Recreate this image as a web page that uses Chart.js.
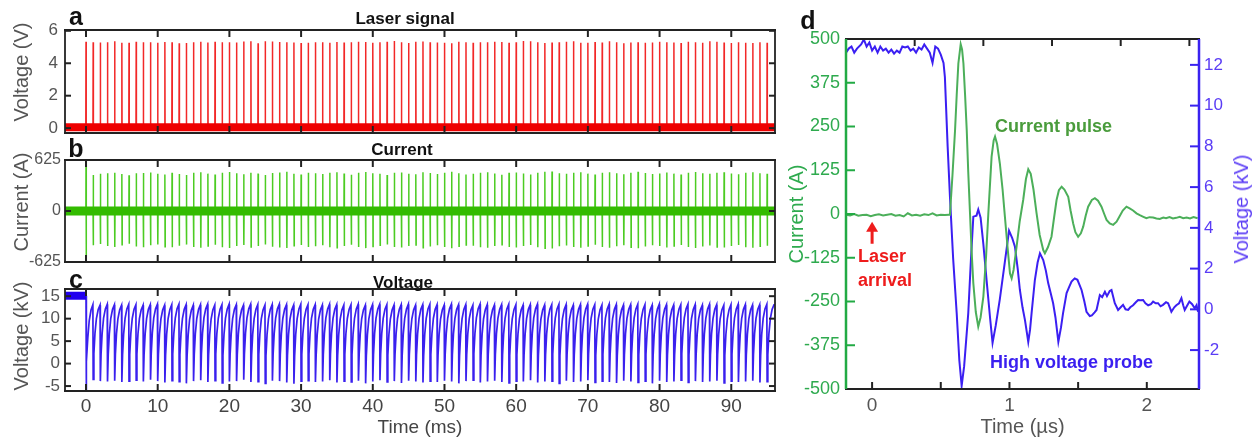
<!DOCTYPE html>
<html><head><meta charset="utf-8">
<script src="https://cdn.jsdelivr.net/npm/chart.js@4.4.1/dist/chart.umd.min.js"></script>
<style>
html,body{margin:0;padding:0;background:#fff;}
#wrap{position:relative;width:1252px;height:440px;overflow:hidden;font-family:'Liberation Sans',Arial,sans-serif;background:#fff;}
canvas{position:absolute;}
.lbl{position:absolute;white-space:nowrap;line-height:1;}
.c{transform:translate(-50%,-50%);}
.l{transform:translate(0,-50%);}
.r{transform:translate(-50%,-50%) rotate(-90deg);}
</style></head><body>
<div id="wrap">
<canvas id="ca" style="left:0;top:0;width:790px;height:140px" width="790" height="140"></canvas>
<canvas id="cb" style="left:0;top:140px;width:790px;height:135px" width="790" height="135"></canvas>
<canvas id="cc" style="left:0;top:270px;width:790px;height:170px" width="790" height="170"></canvas>
<canvas id="cd" style="left:784px;top:0;width:468px;height:440px" width="468" height="440"></canvas>
<div class="lbl c" style="left:76px;top:16px;font-weight:bold;font-size:25px;color:#111">a</div>
<div class="lbl c" style="left:76px;top:148px;font-weight:bold;font-size:25px;color:#111">b</div>
<div class="lbl c" style="left:76px;top:279px;font-weight:bold;font-size:25px;color:#111">c</div>
<div class="lbl c" style="left:808px;top:20px;font-weight:bold;font-size:25px;color:#111">d</div>
<div class="lbl c" style="left:405px;top:18px;font-weight:bold;font-size:17px;color:#111">Laser signal</div>
<div class="lbl c" style="left:402px;top:149px;font-weight:bold;font-size:17px;color:#111">Current</div>
<div class="lbl c" style="left:403px;top:282px;font-weight:bold;font-size:17px;color:#111">Voltage</div>
<div class="lbl r" style="left:21px;top:72px;font-size:20px;color:#555">Voltage (V)</div>
<div class="lbl r" style="left:21px;top:202px;font-size:20px;color:#555">Current (A)</div>
<div class="lbl r" style="left:21px;top:336px;font-size:20px;color:#555">Voltage (kV)</div>
<div class="lbl l" style="left:995px;top:126px;font-weight:bold;font-size:18px;color:#4a9c3c">Current pulse</div>
<div class="lbl l" style="left:990px;top:362px;font-weight:bold;font-size:18px;color:#3a1ff0">High voltage probe</div>
<div class="lbl l" style="left:858px;top:256px;font-weight:bold;font-size:18px;color:#ee1c1c">Laser</div>
<div class="lbl l" style="left:858px;top:280px;font-weight:bold;font-size:18px;color:#ee1c1c">arrival</div>
<div class="lbl r" style="left:1241px;top:209px;font-size:20px;color:#5a3cf5">Voltage (kV)</div>
</div>
<script>
// ---------------- DATA ----------------
const pulseTimes = [0,1,2,3,4,5,6,7,8,9,10,11,12,13,14,15,16,17,18,19,20,21,22,23,24,25,26,27,28,29,30,31,32,33,34,35,36,37,38,39,40,41,42,43,44,45,46,47,48,49,50,51,52,53,54,55,56,57,58,59,60,61,62,63,64,65,66,67,68,69,70,71,72,73,74,75,76,77,78,79,80,81,82,83,84,85,86,87,88,89,90,91,92,93,94,95];
const laserPeaks = [
5.33,5.30,5.28,5.30,5.36,5.26,5.27,5.32,5.29,5.30,5.26,5.31,
5.29,5.24,5.25,5.30,5.32,5.28,5.33,5.30,5.29,5.28,5.34,5.36,
5.23,5.35,5.34,5.31,5.30,5.28,5.25,5.27,5.30,5.29,5.26,5.31,
5.28,5.30,5.33,5.31,5.27,5.30,5.33,5.37,5.29,5.25,5.32,5.34,
5.30,5.28,5.27,5.23,5.33,5.30,5.27,5.29,5.30,5.32,5.31,5.26,
5.30,5.37,5.35,5.30,5.25,5.28,5.30,5.32,5.35,5.26,5.26,5.31,
5.28,5.35,5.30,5.23,5.28,5.30,5.26,5.28,5.33,5.30,5.28,5.25,
5.33,5.30,5.27,5.35,5.32,5.28,5.25,5.30,5.27,5.25,5.30,5.26];
const laserBaseline = 0.05;
const currentPos = [
625,440,455,462,470,452,438,462,466,472,455,446,
470,452,440,468,475,458,448,470,478,462,450,470,
458,440,465,472,480,455,448,468,462,452,470,476,
460,445,470,478,462,455,440,468,472,458,450,476,
465,452,470,480,462,448,456,470,475,460,445,468,
472,460,448,470,482,485,462,455,470,476,458,446,
468,476,462,450,470,480,465,452,460,472,458,446,
470,478,462,455,468,474,460,450,470,476,462,455];
const currentNeg = [
-625,-420,-405,-430,-440,-415,-400,-435,-445,-420,-410,-438,
-445,-425,-412,-440,-450,-430,-415,-445,-452,-430,-418,-440,
-428,-410,-438,-446,-452,-425,-416,-440,-432,-420,-444,-450,
-430,-415,-442,-455,-435,-420,-410,-440,-446,-428,-418,-450,
-436,-420,-442,-456,-432,-416,-425,-444,-450,-430,-414,-440,
-446,-430,-418,-444,-458,-460,-432,-424,-442,-450,-428,-415,
-440,-450,-432,-420,-444,-455,-436,-420,-430,-446,-428,-416,
-442,-452,-434,-424,-440,-448,-430,-418,-444,-450,-432,-425];
const voltPreTrigger = 15.1;
const voltMin = [
-6.4,-3.5,-3.9,-4.0,-3.8,-4.1,-3.9,-3.7,-4.0,-3.6,-3.9,-4.2,
-3.8,-4.0,-4.4,-3.9,-3.7,-4.1,-3.8,-4.3,-4.0,-3.9,-3.6,-4.1,
-4.0,-4.4,-3.8,-3.9,-4.2,-4.5,-3.9,-3.8,-4.1,-4.0,-3.7,-4.2,
-3.9,-4.1,-3.8,-4.4,-4.0,-3.7,-4.1,-3.9,-4.3,-3.8,-4.0,-4.2,
-3.9,-4.1,-3.8,-4.0,-4.4,-3.9,-3.7,-4.2,-4.0,-3.8,-4.1,-4.3,
-3.9,-4.0,-3.7,-4.2,-4.0,-3.9,-4.4,-3.8,-4.1,-4.0,-3.7,-4.2,
-3.9,-4.1,-4.3,-3.8,-4.0,-4.2,-3.9,-4.4,-3.8,-4.1,-4.0,-3.7,
-4.2,-3.9,-4.1,-4.0,-3.8,-4.3,-3.9,-4.1,-4.0,-3.8,-4.2,-4.0];
const voltMax = [
13.1,13.0,13.2,13.1,13.0,13.2,13.1,13.0,13.1,13.2,13.0,13.1,
13.2,13.1,13.0,13.1,13.2,13.0,13.1,13.2,13.1,13.0,13.2,13.1,
13.0,13.1,13.2,13.1,13.0,13.2,13.1,13.1,13.0,13.2,13.1,13.0,
13.1,13.2,13.0,13.1,13.2,13.1,13.0,13.1,13.2,13.0,13.1,13.2,
13.1,13.0,13.2,13.1,13.1,13.0,13.2,13.1,13.0,13.1,13.2,13.1,
13.0,13.1,13.2,13.0,13.1,13.2,13.1,13.0,13.1,13.2,13.1,13.0,
13.2,13.1,13.0,13.1,13.2,13.1,13.0,13.2,13.1,13.0,13.1,13.2,
13.1,13.0,13.2,13.1,13.0,13.1,13.2,13.1,13.0,13.1,13.2,13.1];
// recharge shape of one tooth: [fraction of period, fraction of (max-min)]
const toothProfile = [[0,0],[0.1,0.35],[0.25,0.62],[0.45,0.82],[0.7,0.94],[0.96,1]];

// panel d
const dCurT = [-0.19,-0.16,-0.13,-0.10,-0.07,-0.04,-0.01,0.02,0.05,0.08,0.11,0.14,0.17,0.20,0.23,0.26,0.29,0.32,0.35,0.38,0.41,0.44,0.47,0.50,0.53,0.56,
0.567,0.585,0.604,0.616,0.628,0.645,0.655,0.665,0.677,0.689,0.70,0.713,0.725,0.737,0.755,0.773,0.79,0.81,0.83,0.846,0.87,0.885,0.895,0.91,0.93,0.95,0.967,0.985,1.004,1.016,1.03,1.052,1.075,1.10,1.12,1.137,1.155,1.175,1.197,1.22,1.246,1.258,1.28,1.306,1.325,1.343,1.36,1.38,1.40,1.428,1.445,1.464,1.48,1.50,1.52,1.537,1.555,1.573,1.60,1.622,1.645,1.67,1.69,1.707,1.73,1.755,1.78,1.80,1.825,1.852,1.875,1.90,1.925,1.949,1.975,1.997,2.02,2.046,2.07,2.094,2.12,2.14,2.165,2.19,2.215,2.24,2.265,2.29,2.315,2.34,2.37];
const dCurrent = [-2,-4,0,-5,-3,-2,-6,-3,-1,-4,-2,0,-5,-3,-7,2,-4,-2,-5,-1,-3,2,-4,-2,-3,-2,
0,110,240,340,430,485,470,430,340,240,120,0,-110,-198,-280,-322,-295,-236,-120,0,164,210,221,200,145,70,-8,-90,-170,-184,-160,-93,-20,40,100,128,115,70,3,-60,-103,-112,-95,-65,-10,40,68,78,70,49,10,-27,-52,-65,-55,-36,-5,21,40,45,38,21,0,-17,-27,-31,-22,-8,10,21,16,10,2,-3,-8,-12,-9,-10,-13,-14,-10,-12,-9,-13,-11,-8,-12,-10,-13,-9,-12];
const dVolT = [-0.19,-0.17,-0.15,-0.13,-0.11,-0.08,-0.06,-0.04,-0.02,0.00,0.02,0.04,0.06,0.08,0.10,0.12,0.14,0.16,0.18,0.20,0.22,0.24,0.26,0.28,0.30,0.32,0.34,0.36,0.38,0.40,0.42,0.44,0.46,0.48,0.50,0.52,0.53,0.55,0.567,0.59,0.616,0.635,0.652,0.67,0.70,0.72,0.737,0.76,0.773,0.79,0.81,0.834,0.86,0.877,0.90,0.93,0.96,0.98,0.997,
1.02,1.04,1.06,1.076,1.095,1.113,1.137,1.15,1.161,1.185,1.205,1.222,1.246,1.265,1.282,1.30,1.318,1.335,1.356,1.375,1.39,1.416,1.435,1.452,1.475,1.495,1.51,1.525,1.545,1.561,1.585,1.60,1.62,1.634,1.658,1.675,1.695,1.71,1.73,1.743,1.767,1.791,1.81,1.827,1.845,1.864,1.88,1.90,1.92,1.937,1.955,1.973,1.99,2.01,2.03,2.046,2.065,2.082,2.10,2.118,2.14,2.155,2.17,2.179,2.20,2.215,2.235,2.252,2.265,2.276,2.295,2.31,2.33,2.349,2.362,2.373];
const dVoltage = [12.6,12.8,12.9,12.6,12.8,13.0,13.25,12.9,13.1,12.7,12.9,12.6,12.9,12.7,12.8,12.6,12.75,12.55,12.7,12.6,12.9,12.85,12.9,12.7,12.8,12.6,12.85,12.75,13.0,12.8,12.6,12.1,12.9,12.8,12.5,12.1,11.4,8.0,5.5,2.5,-0.2,-2.5,-3.75,-2.8,-0.2,2.5,4.55,4.6,4.9,4.5,3.2,1.4,-0.5,-1.65,-0.8,0.5,2.0,3.0,3.86,
3.5,3.07,2.0,0.95,0.1,-0.53,-1.6,-1.0,-0.2,1.44,2.3,2.75,2.42,1.9,1.29,0.8,0.3,-0.4,-1.59,-0.9,-0.2,0.8,1.1,1.36,1.52,1.45,1.2,0.95,0.4,-0.12,-0.33,-0.3,-0.15,-0.03,0.7,0.6,0.86,0.65,0.9,0.95,0.3,-0.03,0.1,0.22,0.0,-0.03,0.1,0.2,0.35,0.46,0.45,0.46,0.3,0.2,0.25,0.38,0.3,0.3,0.15,0.22,0.35,0.3,0.05,-0.12,0.1,0.2,0.3,0.55,0.2,-0.03,0.2,0.38,0.25,0.05,0.2,-0.12];

// tick labels / axis ranges
const msTicks = [0,10,20,30,40,50,60,70,80,90];
const aYTicks = [0,2,4,6];
const bYTicks = [-625,0,625];
const cYTicks = [-5,0,5,10,15];
const dXTicks = [0,0.5,1,1.5,2];
const dTopTicks = [0.31,0.81,1.31,1.81,2.31];
const dCurTicks = [-500,-375,-250,-125,0,125,250,375,500];
const dVolTicks = [-2,0,2,4,6,8,10,12];
const msMin = -2.93, msMax = 96.1;

// ---------------- BUILD ----------------
Chart.defaults.font.family = "'Liberation Sans', Arial, sans-serif";

const frameCfg = {};
const arrowCfg = {};
Chart.register({
  id:'frameTicks',
  afterDatasetsDraw(chart){
    const o = frameCfg[chart.canvas.id]; if(!o) return;
    const {ctx, chartArea:a, scales} = chart;
    ctx.save();
    for(const t of o.ticks){
      const sc = scales[t.scale];
      ctx.strokeStyle = t.color; ctx.lineWidth = t.width || 1.4;
      for(const v of t.values){
        const p = sc.getPixelForValue(v);
        ctx.beginPath();
        if(t.side==='top'){ctx.moveTo(p,a.top);ctx.lineTo(p,a.top+t.len);}
        else if(t.side==='bottom'){ctx.moveTo(p,a.bottom);ctx.lineTo(p,a.bottom-t.len);}
        else if(t.side==='left'){ctx.moveTo(a.left,p);ctx.lineTo(a.left+t.len,p);}
        else {ctx.moveTo(a.right,p);ctx.lineTo(a.right-t.len,p);}
        ctx.stroke();
      }
    }
    const E = o.edges;
    const seg=(e,x1,y1,x2,y2)=>{ctx.strokeStyle=e.color;ctx.lineWidth=e.width;ctx.beginPath();ctx.moveTo(x1,y1);ctx.lineTo(x2,y2);ctx.stroke();};
    seg(E.top,a.left-1,a.top,a.right+1,a.top);
    seg(E.bottom,a.left-1,a.bottom,a.right+1,a.bottom);
    seg(E.left,a.left,a.top,a.left,a.bottom);
    seg(E.right,a.right,a.top,a.right,a.bottom);
    const ar = arrowCfg[chart.canvas.id];
    if(ar){
      const x = scales[ar.xScale].getPixelForValue(ar.x);
      const y1 = scales[ar.yScale].getPixelForValue(ar.tip);
      const y2 = scales[ar.yScale].getPixelForValue(ar.tail);
      ctx.strokeStyle = ar.color; ctx.fillStyle = ar.color; ctx.lineWidth = 3;
      ctx.beginPath(); ctx.moveTo(x,y2); ctx.lineTo(x,y1+8); ctx.stroke();
      ctx.beginPath(); ctx.moveTo(x,y1); ctx.lineTo(x-6,y1+10); ctx.lineTo(x+6,y1+10); ctx.closePath(); ctx.fill();
    }
    ctx.restore();
  }
});

function boxFrame(yTicks){
  const k='#222';
  return {
    edges:{top:{color:k,width:1.8},bottom:{color:k,width:1.8},left:{color:k,width:1.8},right:{color:k,width:1.8}},
    ticks:[
      {scale:'x',side:'top',values:msTicks,len:7,color:k,width:2},
      {scale:'x',side:'bottom',values:msTicks,len:7,color:k,width:2},
      {scale:'y',side:'left',values:yTicks,len:6,color:k,width:2},
      {scale:'y',side:'right',values:yTicks,len:6,color:k,width:2}
    ]};
}
const setTicks = arr => (s => { s.ticks = arr.map(v => ({value:v})); });
const fitW = w => (s => { s.width = w; s.paddingTop = 0; s.paddingBottom = 0; });
const fitH = h => (s => { s.height = h; s.paddingLeft = 0; s.paddingRight = 0; });
const base = {responsive:false, animation:false, events:[], plugins:{legend:{display:false}, tooltip:{enabled:false}}};
const lineDs = (data, color, w, extra) => Object.assign({data, borderColor:color, borderWidth:w, pointRadius:0, tension:0, fill:false}, extra||{});

// ---- panel a ----
const laserSpikes = [];
pulseTimes.forEach((t,i) => {
  laserSpikes.push({x:t-0.03,y:laserBaseline},{x:t,y:laserPeaks[i]},{x:t+0.03,y:laserBaseline});
});
const laserBand = [{x:msMin,y:laserBaseline},{x:msMax,y:laserBaseline}];
frameCfg.ca = boxFrame(aYTicks);
new Chart(document.getElementById('ca'), {
  type:'line',
  data:{datasets:[lineDs(laserBand,'#ee0000',8), lineDs(laserSpikes,'#f22828',1.5)]},
  options:Object.assign({}, base, {
    parsing:false,
    layout:{autoPadding:false, padding:{top:30,right:15,bottom:7,left:0}},
    scales:{
      x:{type:'linear',min:msMin,max:msMax,display:false},
      y:{type:'linear',min:-0.3,max:6.05,afterFit:fitW(65),afterBuildTicks:setTicks(aYTicks),
         grid:{display:false,drawTicks:false},border:{display:false},
         ticks:{padding:7,color:'#555',font:{size:17}}}
    }})
});

// ---- panel b ----
const currentSpikes = [];
pulseTimes.forEach((t,i) => {
  currentSpikes.push({x:t-0.02,y:0},{x:t,y:currentPos[i]},{x:t+0.03,y:currentNeg[i]},{x:t+0.05,y:0});
});
const currentBand = [{x:msMin,y:0},{x:msMax,y:0}];
frameCfg.cb = boxFrame(bYTicks);
new Chart(document.getElementById('cb'), {
  type:'line',
  data:{datasets:[lineDs(currentBand,'#33bb00',9), lineDs(currentSpikes,'#4ccc22',1.5)]},
  options:Object.assign({}, base, {
    parsing:false,
    layout:{autoPadding:false, padding:{top:20,right:15,bottom:13,left:0}},
    scales:{
      x:{type:'linear',min:msMin,max:msMax,display:false},
      y:{type:'linear',min:-625,max:625,afterFit:fitW(65),afterBuildTicks:setTicks(bYTicks),
         grid:{display:false,drawTicks:false},border:{display:false},
         ticks:{padding:4,color:'#555',font:{size:16}}}
    }})
});

// ---- panel c ----
const voltPre = [{x:msMin,y:voltPreTrigger},{x:0,y:voltPreTrigger}];
const voltTrace = [{x:0,y:voltPreTrigger}];
pulseTimes.forEach((t,i) => {
  toothProfile.forEach(([f,r]) => voltTrace.push({x:t+f, y:voltMin[i] + r*(voltMax[i]-voltMin[i])}));
});
voltTrace.push({x:msMax,y:voltMax[voltMax.length-1]});
frameCfg.cc = boxFrame(cYTicks);
new Chart(document.getElementById('cc'), {
  type:'line',
  data:{datasets:[lineDs(voltPre,'#2200ee',8), lineDs(voltTrace,'#3a20ee',1.7)]},
  options:Object.assign({}, base, {
    parsing:false,
    layout:{autoPadding:false, padding:{top:19,right:15,bottom:0,left:0}},
    scales:{
      x:{type:'linear',min:msMin,max:msMax,afterFit:fitH(49),afterBuildTicks:setTicks(msTicks),
         grid:{display:false,drawTicks:false},border:{display:false},
         ticks:{padding:4,color:'#444',font:{size:19},maxRotation:0,autoSkip:false},
         title:{display:true,text:'Time (ms)',color:'#444',font:{size:19},padding:{top:0,bottom:1}}},
      y:{type:'linear',min:-6.1,max:16.6,afterFit:fitW(65),afterBuildTicks:setTicks(cYTicks),
         grid:{display:false,drawTicks:false},border:{display:false},
         ticks:{padding:5,color:'#555',font:{size:17}}}
    }})
});

// ---- panel d ----
const GREEN='#2eaa4e', BLUE='#3b1ff2';
frameCfg.cd = {
  edges:{top:{color:'#222',width:2},bottom:{color:'#222',width:2},left:{color:'#22aa44',width:2.5},right:{color:'#3a22f0',width:2.5}},
  ticks:[
    {scale:'x',side:'top',values:dTopTicks,len:7,color:'#222',width:2},
    {scale:'x',side:'bottom',values:dXTicks,len:7,color:'#222',width:2},
    {scale:'y',side:'left',values:dCurTicks,len:9,color:'#22aa44',width:2},
    {scale:'y1',side:'right',values:dVolTicks,len:9,color:'#3a22f0',width:2}
  ]};
arrowCfg.cd = {xScale:'x',yScale:'y',x:0,tip:-22,tail:-85,color:'#ee1c1c'};
new Chart(document.getElementById('cd'), {
  type:'line',
  data:{datasets:[
    lineDs(dCurT.map((t,i)=>({x:t,y:dCurrent[i]})), '#4caf5a', 2, {yAxisID:'y'}),
    lineDs(dVolT.map((t,i)=>({x:t,y:dVoltage[i]})), BLUE, 2, {yAxisID:'y1'})
  ]},
  options:Object.assign({}, base, {
    parsing:false,
    layout:{autoPadding:false, padding:{top:39,right:0,bottom:0,left:0}},
    scales:{
      x:{type:'linear',min:-0.19,max:2.38,afterFit:fitH(51),afterBuildTicks:setTicks(dXTicks),
         grid:{display:false,drawTicks:false},border:{display:false},
         ticks:{padding:5,color:'#555',font:{size:19},maxRotation:0,autoSkip:false,callback:v=>Number.isInteger(v)?String(v):''},
         title:{display:true,text:'Time (µs)',color:'#555',font:{size:20},padding:{top:0,bottom:1}}},
      y:{type:'linear',position:'left',min:-500,max:500,afterFit:fitW(62),afterBuildTicks:setTicks(dCurTicks),
         grid:{display:false,drawTicks:false},border:{display:false},
         ticks:{padding:6,color:GREEN,font:{size:18}},
         title:{display:true,text:'Current (A)',color:GREEN,font:{size:20},padding:{top:1,bottom:0}}},
      y1:{type:'linear',position:'right',min:-3.91,max:13.27,afterFit:fitW(53),afterBuildTicks:setTicks(dVolTicks),
         grid:{display:false,drawTicks:false},border:{display:false},
         ticks:{padding:5,color:'#5a3cf5',font:{size:17}}}
    }})
});
</script>
</body></html>
